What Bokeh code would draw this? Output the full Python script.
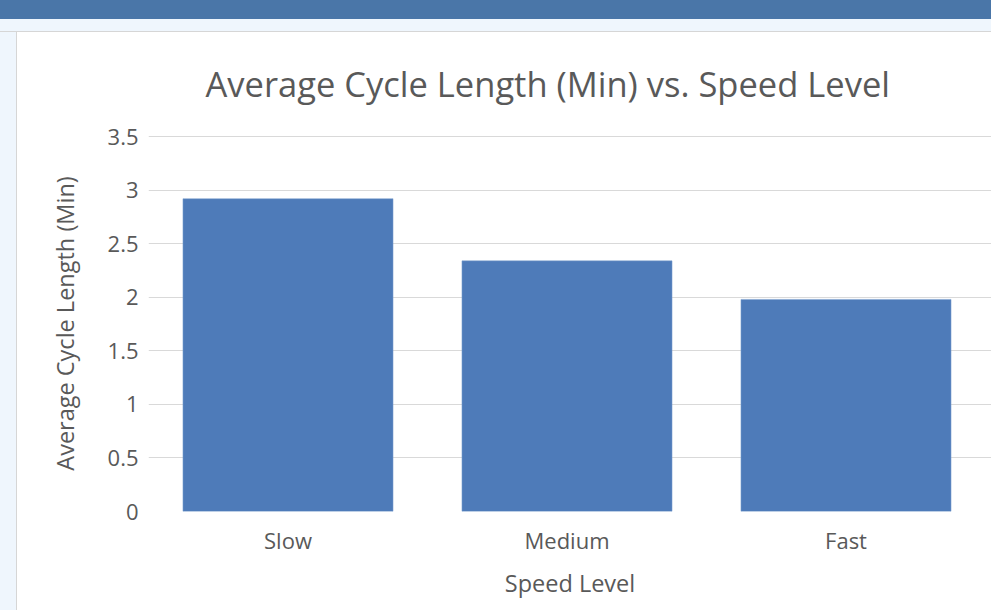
from bokeh.plotting import figure
from bokeh.models import FixedTicker, Range1d, ColumnDataSource, Title, Div
from bokeh.layouts import column, row
from bokeh.embed import file_html
from bokeh.resources import INLINE

categories = ["Slow", "Medium", "Fast"]
values = [2.92, 2.34, 1.98]
y_ticks = [0, 0.5, 1, 1.5, 2, 2.5, 3, 3.5]
y_tick_labels = ["0", "0.5", "1", "1.5", "2", "2.5", "3", "3.5"]

TEXT = "#595959"
FONT = "Open Sans"
W, H = 991, 610
HEADER_H, STRIP_H, LEFT_W = 19, 13, 17

xpos = [i + 0.5 for i in range(len(categories))]
src = ColumnDataSource(dict(x=xpos, top=values, cat=categories))

fw, fh = W - LEFT_W, H - HEADER_H - STRIP_H
p = figure(width=fw, height=fh, output_backend="svg", toolbar_location=None,
           x_range=Range1d(0, (fw - 131) / 279.0), y_range=Range1d(0, 3.51),
           min_border_left=131, min_border_right=0, min_border_top=103,
           min_border_bottom=fh - 479)
p.background_fill_color = "white"
p.border_fill_color = "white"
p.outline_line_color = None

p.vbar(x="x", top="top", width=0.753, bottom=0, source=src,
       fill_color="#4e7bb9", line_color="#7fa2d0", line_width=0.5)

for ax in (p.xaxis[0], p.yaxis[0]):
    ax.axis_line_color = None
    ax.major_tick_line_color = None
    ax.minor_tick_line_color = None
    ax.major_label_text_color = TEXT
    ax.major_label_text_font = FONT
    ax.axis_label_text_color = TEXT
    ax.axis_label_text_font = FONT
    ax.axis_label_text_font_size = "23.5px"
    ax.axis_label_text_font_style = "normal"
p.xaxis.ticker = FixedTicker(ticks=xpos)
p.xaxis.major_label_overrides = {x: c for x, c in zip(xpos, categories)}
p.yaxis.ticker = FixedTicker(ticks=y_ticks)
p.yaxis.major_label_overrides = {t: l for t, l in zip(y_ticks, y_tick_labels)}
p.xaxis.major_label_text_font_size = "22px"
p.yaxis.major_label_text_font_size = "22px"
p.xaxis.axis_label = "Speed Level"
p.yaxis.axis_label = "Average Cycle Length (Min)"
p.xaxis.major_label_standoff = 7
p.xaxis.axis_label_standoff = 9
p.yaxis.major_label_standoff = 4
p.yaxis.axis_label_standoff = 24

p.xgrid.grid_line_color = None
p.ygrid.ticker = FixedTicker(ticks=y_ticks)
p.ygrid.grid_line_color = "#d9d9d9"
p.ygrid.grid_line_width = 1.2

p.title = Title(text="Average Cycle Length (Min) vs. Speed Level", align="left",
                vertical_align="top",
                text_font=FONT, text_font_size="34.5px", text_color=TEXT,
                text_font_style="normal", standoff=54, offset=57)

header = Div(width=W, height=HEADER_H, margin=0,
             styles={"background-color": "#4a76a8"})
strip = Div(width=W, height=STRIP_H, margin=0,
            styles={"background-color": "#eff6fd",
                    "border-bottom": "1px solid #d6d6d6", "box-sizing": "border-box"})
left = Div(width=LEFT_W, height=fh, margin=0,
           styles={"background-color": "#eff6fd",
                   "border-right": "1px solid #d6d6d6", "box-sizing": "border-box"})
layout = column(header, strip, row(left, p, spacing=0), spacing=0)

open("out.html", "w").write(file_html(layout, INLINE))
